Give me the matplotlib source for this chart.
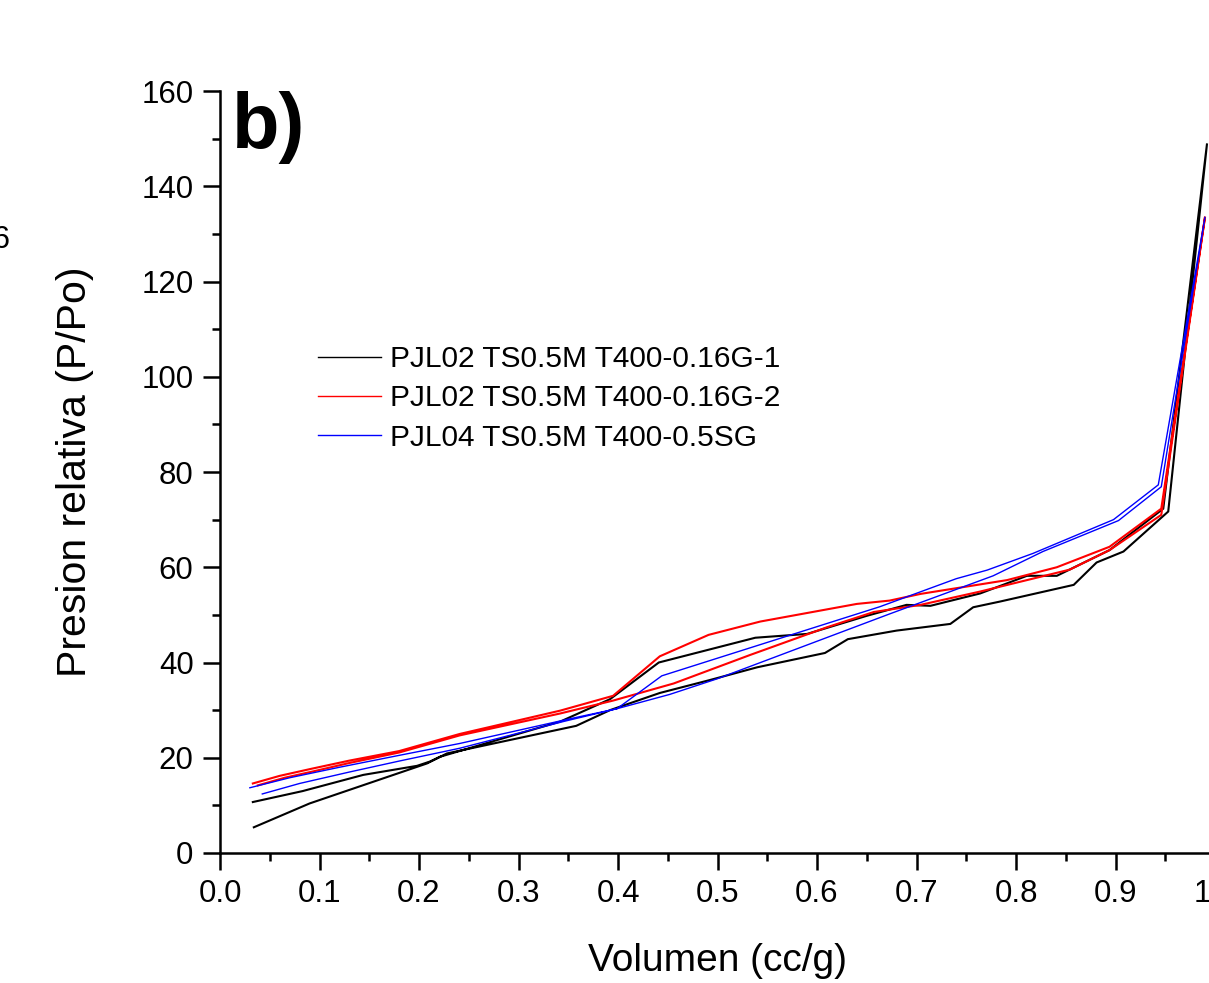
import numpy as np
import matplotlib
matplotlib.use("Agg")
import matplotlib.pyplot as plt
from matplotlib.ticker import MultipleLocator, FixedLocator

plt.rcParams['font.family'] = ['Liberation Sans', 'DejaVu Sans']

# Sample 1 (black): two branches joined at the top point
blk_a_x = [0.033, 0.083, 0.144, 0.198, 0.211, 0.221, 0.342, 0.392, 0.441, 0.538, 0.590, 0.650,
           0.690, 0.714, 0.737, 0.764, 0.811, 0.841, 0.894, 0.948, 0.992]
blk_a_y = [10.7, 13.0, 16.4, 18.3, 19.2, 20.2, 27.6, 32.3, 40.0, 45.2, 46.0, 49.8,
           52.1, 51.9, 53.1, 54.5, 58.2, 58.2, 63.6, 72.3, 149.0]
blk_b_x = [0.034, 0.090, 0.208, 0.228, 0.358, 0.392, 0.442, 0.492, 0.540, 0.608, 0.631, 0.680,
           0.734, 0.757, 0.784, 0.858, 0.881, 0.908, 0.953, 0.992]
blk_b_y = [5.4, 10.4, 18.8, 20.9, 26.7, 30.0, 33.6, 36.3, 39.0, 42.0, 44.9, 46.7,
           48.1, 51.6, 52.8, 56.3, 61.0, 63.3, 71.7, 149.0]

# Sample 2 (red)
red_a_x = [0.033, 0.060, 0.090, 0.130, 0.180, 0.241, 0.342, 0.395, 0.442, 0.491, 0.543, 0.640,
           0.673, 0.704, 0.791, 0.841, 0.894, 0.946, 0.990]
red_a_y = [14.6, 16.2, 17.6, 19.4, 21.4, 25.0, 29.9, 33.0, 41.3, 45.8, 48.6, 52.3,
           53.0, 54.4, 57.3, 60.0, 64.3, 72.3, 133.6]
red_b_x = [0.038, 0.065, 0.095, 0.130, 0.180, 0.241, 0.342, 0.395, 0.456, 0.533, 0.610, 0.657,
           0.704, 0.764, 0.854, 0.894, 0.946, 0.990]
red_b_y = [14.2, 15.8, 17.2, 18.9, 21.1, 24.7, 29.3, 32.0, 35.6, 41.6, 47.4, 50.6,
           52.1, 54.9, 59.5, 63.6, 71.0, 133.6]

# Sample 3 (blue)
blu_a_x = [0.030, 0.070, 0.120, 0.180, 0.241, 0.352, 0.399, 0.444, 0.663, 0.740, 0.771, 0.817,
           0.898, 0.943, 0.990]
blu_a_y = [13.7, 15.8, 18.0, 20.5, 23.0, 28.2, 30.3, 37.2, 51.7, 57.6, 59.4, 62.9,
           70.0, 77.3, 133.6]
blu_b_x = [0.0425, 0.080, 0.130, 0.180, 0.241, 0.345, 0.399, 0.452, 0.500, 0.673, 0.777, 0.827,
           0.903, 0.946, 0.990]
blu_b_y = [12.4, 14.6, 17.0, 19.3, 22.0, 27.6, 30.3, 33.3, 36.6, 50.2, 58.2, 63.3,
           69.8, 76.9, 133.6]

labels = ["PJL02 TS0.5M T400-0.16G-1", "PJL02 TS0.5M T400-0.16G-2", "PJL04 TS0.5M T400-0.5SG"]
colors = ["black", "red", "blue"]
widths = [1.5, 1.5, 1.0]

x_ticks = [0.0, 0.1, 0.2, 0.3, 0.4, 0.5, 0.6, 0.7, 0.8, 0.9, 1.0]
x_ticklabels = ["0.0", "0.1", "0.2", "0.3", "0.4", "0.5", "0.6", "0.7", "0.8", "0.9", "1.0"]
y_ticks = [0, 20, 40, 60, 80, 100, 120, 140, 160]

W, H = 1209, 983
fig = plt.figure(figsize=(W / 100, H / 100), dpi=100)
ax = fig.add_axes([220 / W, (H - 853) / H, 995 / W, (853 - 91) / H])

series = [
    (blk_a_x, blk_a_y, blk_b_x, blk_b_y),
    (red_a_x, red_a_y, red_b_x, red_b_y),
    (blu_a_x, blu_a_y, blu_b_x, blu_b_y),
]
for (ax_x, ax_y, bx, by), lab, c, lw in zip(series, labels, colors, widths):
    xs = list(bx) + list(ax_x[::-1])
    ys = list(by) + list(ax_y[::-1])
    ax.plot(xs, ys, color=c, lw=lw, label=lab, solid_joinstyle='miter')

ax.set_xlim(0, 1.0)
ax.set_ylim(0, 160)
ax.xaxis.set_major_locator(FixedLocator(x_ticks))
ax.set_xticklabels(x_ticklabels)
ax.xaxis.set_minor_locator(MultipleLocator(0.05))
ax.yaxis.set_major_locator(FixedLocator(y_ticks))
ax.yaxis.set_minor_locator(MultipleLocator(10))

for s in ['top', 'right']:
    ax.spines[s].set_visible(False)
for s in ['left', 'bottom']:
    ax.spines[s].set_linewidth(1.8)

ax.tick_params(which='major', direction='out', length=12, width=1.8, labelsize=22.5, pad=7)
ax.tick_params(which='minor', direction='out', length=6, width=1.8)

ax.set_xlabel("Volumen (cc/g)", fontsize=28, labelpad=24)
ax.set_ylabel("Presion relativa (P/Po)", fontsize=29.5, labelpad=34)

ax.text(232 / W, (H - 148) / H, "b)", transform=fig.transFigure, fontsize=56,
        fontweight='bold', ha='left', va='baseline')

fig.text(9 / W, (H - 240) / H, "6", fontsize=22, ha='right', va='center')

leg = ax.legend(loc='upper left', bbox_to_anchor=(318 / W, (H - 345) / H),
                bbox_transform=fig.transFigure, frameon=False, fontsize=21.5,
                handlelength=2.1, handletextpad=0.3, labelspacing=0.38,
                borderpad=0, borderaxespad=0)
for line in leg.get_lines():
    line.set_linewidth(1.0)

fig.savefig("out.png", dpi=100)
